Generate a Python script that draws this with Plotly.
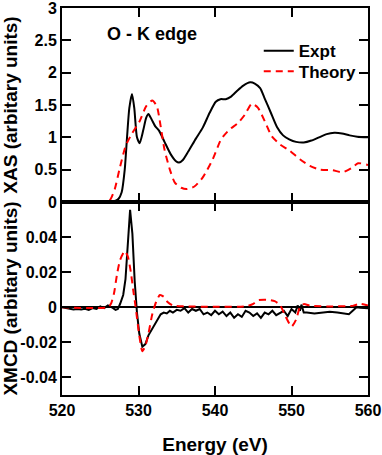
import plotly.graph_objects as go
from plotly.subplots import make_subplots

# XAS (top panel)
xas_expt_e = [520, 524, 526, 527, 527.4, 527.8, 528.2, 528.5, 528.8, 529.15, 529.45, 529.8,
              530.15, 530.6, 531.0, 531.3, 531.7, 532.2, 532.7, 533.4, 534.2, 534.9, 535.3,
              535.8, 536.5, 537.5, 538.4, 539.3, 540.1, 540.7, 541.4, 542.1, 542.9, 543.7,
              544.6, 545.2, 545.9, 546.5, 547.3, 548.1, 548.9, 549.7, 550.6, 551.6, 552.6,
              553.6, 554.6, 555.6, 556.6, 557.6, 558.6, 560]
xas_expt = [0.0, 0.002, 0.006, 0.02, 0.05, 0.15, 0.5, 1.0, 1.45, 1.67, 1.45, 1.0,
            0.91, 1.1, 1.3, 1.36, 1.28, 1.17, 1.1, 0.93, 0.74, 0.63, 0.61,
            0.65, 0.78, 0.98, 1.15, 1.38, 1.55, 1.59, 1.59, 1.63, 1.72, 1.80,
            1.85, 1.83, 1.76, 1.6, 1.38, 1.16, 1.03, 0.97, 0.93, 0.92, 0.95,
            1.0, 1.05, 1.07, 1.06, 1.03, 1.01, 1.0]

xas_theory_e = [520, 525, 526.2, 526.9, 527.5, 528.3, 529.05, 530.15, 531.0, 531.8, 532.4,
                532.9, 533.4, 534.1, 534.75, 535.6, 536.3, 537.3, 538.4, 539.7, 540.8, 541.9,
                543.0, 543.9, 544.8, 545.6, 546.5, 547.4, 548.5, 549.8, 551.1, 552.4, 553.7,
                555.4, 556.7, 557.9, 558.7, 559.8, 560]
xas_theory = [0.0, 0.0, 0.02, 0.2, 0.5, 0.86, 1.04, 1.25, 1.48, 1.57, 1.48,
              1.17, 0.81, 0.5, 0.3, 0.22, 0.2, 0.24, 0.38, 0.66, 0.97, 1.12,
              1.22, 1.35, 1.52, 1.46, 1.25, 1.02, 0.89, 0.79, 0.66, 0.56, 0.5,
              0.49, 0.46, 0.53, 0.6, 0.58, 0.57]

# XMCD (bottom panel)
xmcd_expt_e = [520, 520.5, 521, 521.5, 522, 522.5, 523, 523.5, 524, 524.5, 525, 525.5, 526,
               526.5, 527, 527.3, 527.6, 528, 528.3, 528.6, 528.9, 529.2, 529.5, 529.8,
               530.1, 530.5, 530.9, 531.3, 531.7, 532.1, 532.5, 532.9, 533.3, 533.7, 534.1,
               534.5, 535, 535.5, 536, 536.5, 537, 537.5, 538, 538.5, 539, 539.5, 540,
               540.5, 541, 541.5, 542, 542.5, 543, 543.5, 544, 544.5, 545, 545.5, 546,
               546.5, 547, 547.5, 548, 548.5, 549, 549.5, 550, 550.5, 550.8, 551.1, 551.3,
               551.6, 552, 553, 554, 555, 556, 557, 557.5, 558, 558.5, 559, 560]
xmcd_expt = [0.0, -0.0005, -0.001, -0.0012, -0.001, -0.0012, -0.0008, -0.0015, -0.0005,
             -0.001, 0.0005, -0.0005, 0.001, 0.0, -0.0015, -0.001, 0.002, 0.007, 0.016,
             0.035, 0.0555, 0.042, 0.015, -0.003, -0.015, -0.0225, -0.021, -0.016, -0.013,
             -0.010, -0.007, -0.004, -0.003, -0.0035, -0.002, -0.003, -0.0015, -0.002,
             -0.0005, -0.003, -0.001, -0.002, -0.001, -0.004, -0.003, -0.0045, -0.002,
             -0.004, -0.0025, -0.005, -0.003, -0.006, -0.004, -0.0055, -0.002, -0.003,
             -0.005, -0.0035, -0.006, -0.003, -0.004, -0.002, -0.0045, -0.003, -0.002,
             -0.005, -0.001, -0.003, 0.001, -0.002, 0.0015, -0.003, -0.003, -0.0035,
             -0.003, -0.0025, -0.003, -0.0035, -0.004, -0.002, 0.0, -0.0003, -0.0005]

xmcd_theory_e = [520, 526, 526.4, 526.8, 527.2, 527.6, 528.2, 528.6, 529.0, 529.3, 529.6,
                 530.1, 530.5, 530.9, 531.3, 531.8, 532.3, 532.8, 533.3, 533.8, 534.5, 536,
                 540, 544, 545, 545.6, 547, 547.8, 548.5, 549.2, 550, 550.6, 551.1, 551.6,
                 552.5, 555, 558, 559, 560]
xmcd_theory = [0.0, 0.0, 0.002, 0.008, 0.019, 0.027, 0.032, 0.029, 0.02, 0.01, 0.001,
               -0.016, -0.025, -0.022, -0.015, -0.004, 0.003, 0.007, 0.006, 0.003, 0.001,
               0.0005, 0.0003, 0.0005, 0.002, 0.004, 0.0042, 0.0035, 0.0013, -0.005, -0.011,
               -0.007, 0.0, 0.0018, 0.0008, 0.0005, 0.0008, 0.002, 0.001]

xas_ticks = [0, 0.5, 1, 1.5, 2, 2.5, 3]
xas_ticktext = ['0', '0.5', '1', '1.5', '2', '2.5', '3']
xmcd_ticks = [-0.04, -0.02, 0, 0.02, 0.04]
xmcd_ticktext = ['-0.04', '-0.02', '0', '0.02', '0.04']
energy_ticks = [520, 530, 540, 550, 560]

FONT = 'Liberation Sans, Arial, Helvetica, sans-serif'
EXPT_LINE = dict(color='black', width=2)
THEORY_LINE = dict(color='#ff0000', width=2, dash='7px,5px')

fig = make_subplots(rows=2, cols=1, shared_xaxes=True, vertical_spacing=0)

fig.add_trace(go.Scatter(x=xas_expt_e, y=xas_expt, mode='lines', name='Expt', legend='legend',
                         line=dict(**EXPT_LINE, shape='spline', smoothing=0.6)), row=1, col=1)
fig.add_trace(go.Scatter(x=xas_theory_e, y=xas_theory, mode='lines', name='Theory',
                         legend='legend2',
                         line=dict(**THEORY_LINE, shape='spline', smoothing=0.6)), row=1, col=1)
fig.add_trace(go.Scatter(x=xmcd_expt_e, y=xmcd_expt, mode='lines', showlegend=False,
                         line=EXPT_LINE), row=2, col=1)
fig.add_trace(go.Scatter(x=xmcd_theory_e, y=xmcd_theory, mode='lines', showlegend=False,
                         line=dict(**THEORY_LINE, shape='spline', smoothing=0.6)), row=2, col=1)

split = 193 / 387
axis_style = dict(
    showline=True, linecolor='black', linewidth=2, mirror='ticks',
    ticks='inside', ticklen=9, tickwidth=1.5, tickcolor='black',
    showgrid=False, zeroline=False, automargin=False, ticklabeloverflow='allow',
)

fig.update_xaxes(**axis_style, range=[520, 560], tickvals=energy_ticks)
fig.update_xaxes(showticklabels=False, row=1, col=1)
fig.update_xaxes(title=dict(text='Energy (eV)', standoff=22), row=2, col=1)

fig.update_yaxes(**axis_style)
fig.update_yaxes(domain=[split, 1], range=[0, 3], tickvals=xas_ticks, ticktext=xas_ticktext,
                 title=dict(text='XAS (arbitary units)', standoff=15), row=1, col=1)
fig.update_yaxes(domain=[0, split], range=[-0.05, 0.06], tickvals=xmcd_ticks,
                 ticktext=xmcd_ticktext, zeroline=True, zerolinecolor='black', zerolinewidth=2,
                 title=dict(text='XMCD (arbitary units)', standoff=3), row=2, col=1)

fig.add_annotation(text='O - K edge', xref='paper', yref='paper', x=0.294, y=0.9323,
                   xanchor='center', yanchor='middle', showarrow=False, font=dict(size=18))

legend_style = dict(xanchor='left', yanchor='top', bgcolor='rgba(0,0,0,0)', font=dict(size=17))
fig.update_layout(
    template='none',
    width=382, height=455,
    margin=dict(l=62, r=14, t=8, b=60),
    paper_bgcolor='white', plot_bgcolor='white',
    font=dict(family=FONT, size=16, color='black', weight='bold'),
    legend=dict(x=0.643, y=0.935, **legend_style),
    legend2=dict(x=0.643, y=0.882, **legend_style),
    showlegend=True,
)

fig.write_html('out.html', config={'displayModeBar': False},
               post_script="document.body.style.margin='0';")
